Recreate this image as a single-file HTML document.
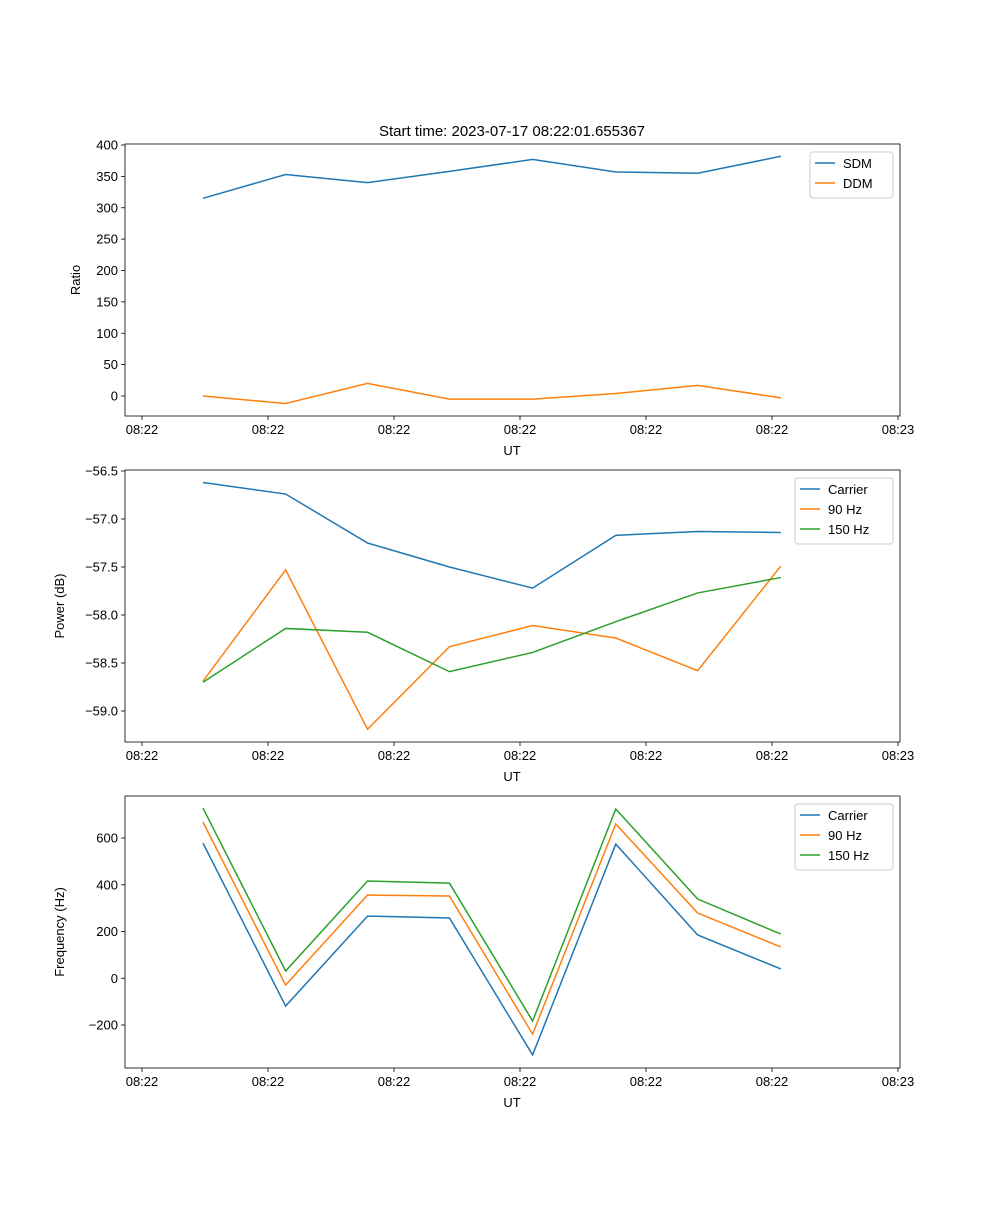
<!DOCTYPE html>
<html><head><meta charset="utf-8"><style>
body{margin:0;background:#fff}
svg{font-family:"Liberation Sans","DejaVu Sans",sans-serif;font-size:13px}
</style></head><body>
<svg id="fig" width="1000" height="1200" viewBox="0 0 1000 1200" xmlns="http://www.w3.org/2000/svg">
<rect width="1000" height="1200" fill="#fff"/>
<text x="512" y="136" text-anchor="middle" font-size="15">Start time: 2023-07-17 08:22:01.655367</text>
</svg>
<script>
const times = [4.84, 11.4, 17.9, 24.4, 31.0, 37.6, 44.1, 50.7];
const xTickVals = [0, 10, 20, 30, 40, 50, 60];
const xTickLabels = ["08:22","08:22","08:22","08:22","08:22","08:22","08:23"];
const sdm = [315, 353, 340, 358, 377, 357, 355, 382];
const ddm = [0, -12, 20, -5, -5, 4, 17, -3];
const ratioTicks = [0, 50, 100, 150, 200, 250, 300, 350, 400];
const carrierPow = [-56.62, -56.74, -57.25, -57.5, -57.72, -57.17, -57.13, -57.14];
const hz90Pow = [-58.69, -57.53, -59.19, -58.33, -58.11, -58.24, -58.58, -57.49];
const hz150Pow = [-58.7, -58.14, -58.18, -58.59, -58.39, -58.07, -57.77, -57.61];
const powTicks = [-59.0, -58.5, -58.0, -57.5, -57.0, -56.5];
const carrierFreq = [578, -119, 266, 258, -328, 574, 185, 40];
const hz90Freq = [668, -29, 356, 352, -239, 660, 279, 134];
const hz150Freq = [728, 31, 416, 407, -183, 724, 339, 189];
const freqTicks = [-200, 0, 200, 400, 600];

const NS="http://www.w3.org/2000/svg";
const svg=document.getElementById('fig');
function mk(tag,attrs,parent){const e=document.createElementNS(NS,tag);for(const k in attrs)e.setAttribute(k,attrs[k]);(parent||svg).appendChild(e);return e;}
const L=125,R=900;
const xs=t=>142+t*12.6;

function panel(name,top,bot,y0v,y0p,y1v,y1p,ticks,fmt,ylabel,series,legend){
  const g=mk('g',{});
  
  
  const ys=v=>y0p+(v-y0v)*(y1p-y0p)/(y1v-y0v);
  xTickVals.forEach((v,i)=>{
    const x=xs(v);
    mk('line',{x1:x,x2:x,y1:bot,y2:bot+4,stroke:'#000','stroke-width':0.8},g);
    const t=mk('text',{x:x,y:bot+18,'text-anchor':'middle'},g);t.textContent=xTickLabels[i];
    
    
  });
  ticks.forEach(v=>{
    const y=ys(v);
    mk('line',{x1:L-4,x2:L,y1:y,y2:y,stroke:'#000','stroke-width':0.8},g);
    const t=mk('text',{x:L-7,y:y+4.5,'text-anchor':'end'},g);t.textContent=fmt(v);
    
    
  });
  const xl=mk('text',{x:512,y:bot+39,'text-anchor':'middle'},g);xl.textContent='UT';
  
  
  const yl=mk('text',{x:0,y:0,'text-anchor':'middle',transform:`translate(${name==='ratio'?80:64},${(top+bot)/2}) rotate(-90)`},g);yl.textContent=ylabel;
  
  
  series.forEach(s=>{
    const p=mk('polyline',{points:times.map((t,i)=>xs(t)+','+ys(s.d[i])).join(' '),fill:'none',stroke:s.c,'stroke-width':1.5},g);
    
    
  });
  mk('rect',{x:L,y:top,width:R-L,height:bot-top,fill:'none',stroke:'#000','stroke-width':0.8},g);
  const lg=mk('g',{},g);
  
  
  mk('rect',{x:legend.x,y:top+8,width:893-legend.x,height:series.length*20+6,fill:'#fff',stroke:'#ccc',rx:3},lg);
  series.forEach((s,i)=>{
    const y=top+19+i*20;
    mk('line',{x1:legend.x+5,x2:legend.x+25,y1:y,y2:y,stroke:s.c,'stroke-width':1.5},lg);
    const t=mk('text',{x:legend.x+33,y:y+5},lg);t.textContent=s.label;
    
    
  });
}
const B='#1f77b4',O='#ff7f0e',G='#2ca02c';
panel('ratio',144,416,0,396,400,145,ratioTicks,v=>String(v),'Ratio',
  [{n:'sdm',label:'SDM',d:sdm,c:B},{n:'ddm',label:'DDM',d:ddm,c:O}],{x:810});
panel('power',470,742,-56.5,471,-59.0,711,powTicks,v=>'\u2212'.repeat(v<0?1:0)+Math.abs(v).toFixed(1),'Power (dB)',
  [{n:'carrier-power',label:'Carrier',d:carrierPow,c:B},{n:'90hz-power',label:'90 Hz',d:hz90Pow,c:O},{n:'150hz-power',label:'150 Hz',d:hz150Pow,c:G}],{x:795});
panel('frequency',796,1068,600,838,-200,1025,freqTicks,v=>(v<0?'\u2212':'')+Math.abs(v),'Frequency (Hz)',
  [{n:'carrier-frequency',label:'Carrier',d:carrierFreq,c:B},{n:'90hz-frequency',label:'90 Hz',d:hz90Freq,c:O},{n:'150hz-frequency',label:'150 Hz',d:hz150Freq,c:G}],{x:795});
</script>
</body></html>
